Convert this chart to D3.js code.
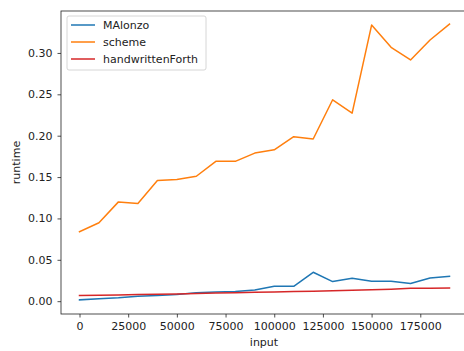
<!DOCTYPE html>
<html>
<meta charset="utf-8" />
<script src="https://d3js.org/d3.v7.min.js"></script>

<body>
    <style>
        body, html { margin: 0; padding: 0; background: #fff; overflow: hidden; }
        text { font-family: "DejaVu Sans", sans-serif; fill: #222; }
    </style>
    <svg id="chart"></svg>
    <script>
        // x values: input sizes
        var inputs = [0, 10000, 20000, 30000, 40000, 50000, 60000, 70000, 80000, 90000,
            100000, 110000, 120000, 130000, 140000, 150000, 160000, 170000, 180000, 190000];

        var malonzo = [0.0016, 0.003, 0.004, 0.006, 0.0068, 0.008, 0.0102, 0.011, 0.0118, 0.0136,
            0.018, 0.018, 0.0349, 0.0237, 0.0277, 0.024, 0.024, 0.0213, 0.028, 0.030];
        var scheme = [0.084, 0.0948, 0.120, 0.118, 0.1458, 0.147, 0.151, 0.169, 0.169, 0.179,
            0.183, 0.1988, 0.196, 0.2434, 0.2273, 0.3337, 0.3068, 0.2916, 0.3157, 0.3349];
        var forth = [0.0068, 0.0071, 0.0076, 0.0080, 0.0084, 0.0088, 0.0094, 0.0098, 0.0103, 0.0108,
            0.0112, 0.0117, 0.0121, 0.0126, 0.0131, 0.0137, 0.0145, 0.0155, 0.0157, 0.0160];

        var seriesNames = ["MAlonzo", "scheme", "handwrittenForth"];
        var seriesColors = ["#1f77b4", "#ff7f0e", "#d62728"];
        var seriesValues = [malonzo, scheme, forth];

        var xTicks = [0, 25000, 50000, 75000, 100000, 125000, 150000, 175000];
        var yTicks = [0, 0.05, 0.10, 0.15, 0.20, 0.25, 0.30];

        var width = 464, height = 351;
        var m = { left: 61, top: 11, right: 468, bottom: 314 };

        var svg = d3.select("#chart").attr("width", width).attr("height", height);

        var x = d3.scaleLinear().domain([-9500, 199500]).range([m.left, m.right]);
        var y = d3.scaleLinear().domain([-0.0155, 0.3507]).range([m.bottom, m.top]);

        // axes
        var xAxis = svg.append("g")
            .attr("transform", "translate(0," + m.bottom + ")")
            .call(d3.axisBottom(x).tickValues(xTicks).tickFormat(d3.format("d")).tickSize(3.5).tickPadding(5));
        var yAxis = svg.append("g")
            .attr("transform", "translate(" + m.left + ",0)")
            .call(d3.axisLeft(y).tickValues(yTicks).tickFormat(d3.format(".2f")).tickSize(3.5).tickPadding(5));

        [xAxis, yAxis].forEach(function (g) {
            g.select(".domain").remove();
            g.selectAll(".tick line").attr("stroke", "#222").attr("stroke-width", 0.8);
            g.selectAll("text").attr("font-size", 11).attr("fill", "#222")
                .style("font-family", "'DejaVu Sans', sans-serif");
        });

        // frame
        svg.append("rect")
            .attr("x", m.left).attr("y", m.top)
            .attr("width", m.right - m.left).attr("height", m.bottom - m.top)
            .attr("fill", "none").attr("stroke", "#222").attr("stroke-width", 0.8);

        // lines
        var line = d3.line()
            .x(function (d, i) { return x(inputs[i]); })
            .y(function (d) { return y(d); });

        seriesValues.forEach(function (vals, k) {
            svg.append("path")
                .datum(vals)
                .attr("d", line)
                .attr("fill", "none")
                .attr("stroke", seriesColors[k])
                .attr("stroke-width", 1.5)
                .attr("stroke-linejoin", "round")
                .attr("stroke-linecap", "square");
        });

        // axis labels
        svg.append("text")
            .attr("x", 264).attr("y", 346)
            .attr("text-anchor", "middle").attr("font-size", 11)
            .text("input");
        svg.append("text")
            .attr("transform", "translate(20," + ((m.top + m.bottom) / 2) + ") rotate(-90)")
            .attr("text-anchor", "middle").attr("font-size", 11)
            .text("runtime");

        // legend
        var legend = svg.append("g").attr("transform", "translate(67,16)");
        legend.append("rect")
            .attr("width", 139).attr("height", 54).attr("rx", 2)
            .attr("fill", "#fff").attr("fill-opacity", 0.8)
            .attr("stroke", "#ccc").attr("stroke-width", 0.8);
        seriesNames.forEach(function (name, k) {
            var yy = 9 + k * 17;
            legend.append("line")
                .attr("x1", 4).attr("x2", 28).attr("y1", yy).attr("y2", yy)
                .attr("stroke", seriesColors[k]).attr("stroke-width", 1.5);
            legend.append("text")
                .attr("x", 36).attr("y", yy + 4)
                .attr("font-size", 11)
                .text(name);
        });
    </script>
</body>

</html>
